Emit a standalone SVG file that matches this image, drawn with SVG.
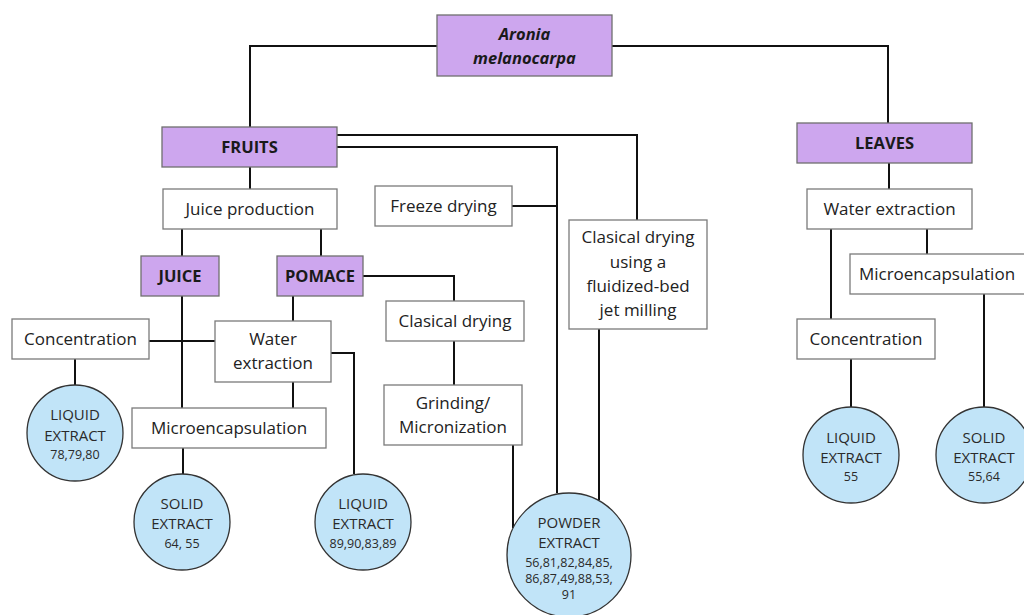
<svg xmlns="http://www.w3.org/2000/svg" width="1024" height="615" viewBox="0 0 1024 615">
<style>
.box{fill:#fff;stroke:#7a7a7a;stroke-width:1.3}
.pb{fill:#cda6ee;stroke:#6f6f6f;stroke-width:1.3}
.c{fill:#c1e4f8;stroke:#333;stroke-width:1.3}
.t{font-family:"Open Sans","Noto Sans","Liberation Sans",sans-serif;font-size:17px;fill:#222;text-anchor:middle}
.b{font-weight:bold;font-size:16.5px;fill:#1a1a1a}
.ct{font-family:"Open Sans","Noto Sans","Liberation Sans",sans-serif;font-size:15px;fill:#2a2a2a;text-anchor:middle}
.n{font-size:12.5px}
.ln{fill:none;stroke:#111;stroke-width:2}
</style>
<g id="connectors" class="ln">
<polyline points="437,46 250,46 250,127"/>
<polyline points="612,46 888,46 888,123"/>
<polyline points="337,135 637,135 637,220"/>
<polyline points="337,147 557,147 557,493"/>
<line x1="512" y1="206" x2="557" y2="206"/>
<line x1="599" y1="329" x2="599" y2="500"/>
<line x1="250" y1="167" x2="250" y2="189"/>
<line x1="182" y1="229" x2="182" y2="256"/>
<line x1="321" y1="229" x2="321" y2="256"/>
<line x1="182" y1="296" x2="182" y2="408"/>
<line x1="293" y1="296" x2="293" y2="321"/>
<line x1="149" y1="341" x2="215" y2="341"/>
<line x1="75" y1="359" x2="75" y2="385"/>
<polyline points="331,353 354,353 354,474"/>
<line x1="293" y1="382" x2="293" y2="408"/>
<line x1="183" y1="448" x2="183" y2="474"/>
<polyline points="363,276 454,276 454,301"/>
<line x1="454" y1="341" x2="454" y2="385"/>
<line x1="513" y1="445" x2="513" y2="528"/>
<line x1="889" y1="163" x2="889" y2="189"/>
<line x1="927" y1="229" x2="927" y2="254"/>
<line x1="831" y1="229" x2="831" y2="319"/>
<line x1="851" y1="359" x2="851" y2="407"/>
<line x1="984" y1="294" x2="984" y2="407"/>
</g>
<g id="aronia"><rect class="pb" x="437" y="15" width="175" height="61"/>
<text class="t b" font-style="italic" x="524.5" y="40">Aronia</text>
<text class="t b" font-style="italic" x="524.5" y="64">melanocarpa</text></g>
<g id="fruits"><rect class="pb" x="162" y="127" width="175" height="40"/><text class="t b" x="249.5" y="153">FRUITS</text></g>
<g id="leaves"><rect class="pb" x="797" y="123" width="175" height="40"/><text class="t b" x="884.5" y="149">LEAVES</text></g>
<g id="juiceprod"><rect class="box" x="163" y="189" width="174" height="40"/><text class="t" x="250" y="215">Juice production</text></g>
<g id="juice"><rect class="pb" x="141" y="256" width="78" height="40"/><text class="t b" x="180" y="282">JUICE</text></g>
<g id="pomace"><rect class="pb" x="277" y="256" width="86" height="40"/><text class="t b" x="320" y="282">POMACE</text></g>
<g id="conc1"><rect class="box" x="12" y="319" width="137" height="40"/><text class="t" x="80.5" y="345">Concentration</text></g>
<g id="water1"><rect class="box" x="215" y="321" width="116" height="61"/><text class="t" x="273" y="345">Water</text><text class="t" x="273" y="369">extraction</text></g>
<g id="micro1"><rect class="box" x="132" y="408" width="194" height="40"/><text class="t" x="229" y="434">Microencapsulation</text></g>
<g id="liq1"><circle class="c" cx="75" cy="433" r="48"/><text class="ct" x="75" y="420">LIQUID</text><text class="ct" x="75" y="441">EXTRACT</text><text class="ct n" x="75" y="459">78,79,80</text></g>
<g id="sol1"><circle class="c" cx="182" cy="522" r="48"/><text class="ct" x="182" y="509">SOLID</text><text class="ct" x="182" y="529">EXTRACT</text><text class="ct n" x="182" y="548">64, 55</text></g>
<g id="liq2"><circle class="c" cx="363" cy="522" r="48"/><text class="ct" x="363" y="509">LIQUID</text><text class="ct" x="363" y="529">EXTRACT</text><text class="ct n" x="363" y="548">89,90,83,89</text></g>
<g id="freeze"><rect class="box" x="375" y="186" width="137" height="40"/><text class="t" x="443.5" y="212">Freeze drying</text></g>
<g id="clasfluid"><rect class="box" x="569" y="220" width="138" height="109"/><text class="t" x="638" y="243">Clasical drying</text><text class="t" x="638" y="268">using a</text><text class="t" x="638" y="292">fluidized-bed</text><text class="t" x="638" y="316">jet milling</text></g>
<g id="clas"><rect class="box" x="386" y="301" width="138" height="40"/><text class="t" x="455" y="327">Clasical drying</text></g>
<g id="grind"><rect class="box" x="384" y="385" width="138" height="60"/><text class="t" x="453" y="409">Grinding/</text><text class="t" x="453" y="433">Micronization</text></g>
<g id="powder"><circle class="c" cx="569" cy="555" r="62"/><text class="ct" x="569" y="528">POWDER</text><text class="ct" x="569" y="548">EXTRACT</text><text class="ct n" x="569" y="567">56,81,82,84,85,</text><text class="ct n" x="569" y="583">86,87,49,88,53,</text><text class="ct n" x="569" y="599">91</text></g>
<g id="water2"><rect class="box" x="807" y="189" width="165" height="40"/><text class="t" x="889.5" y="215">Water extraction</text></g>
<g id="micro2"><rect class="box" x="850" y="254" width="180" height="40"/><text class="t" x="937" y="280">Microencapsulation</text></g>
<g id="conc2"><rect class="box" x="797" y="319" width="138" height="40"/><text class="t" x="866" y="345">Concentration</text></g>
<g id="liq3"><circle class="c" cx="851" cy="455" r="48"/><text class="ct" x="851" y="443">LIQUID</text><text class="ct" x="851" y="463">EXTRACT</text><text class="ct n" x="851" y="481">55</text></g>
<g id="sol2"><circle class="c" cx="984" cy="455" r="48"/><text class="ct" x="984" y="443">SOLID</text><text class="ct" x="984" y="463">EXTRACT</text><text class="ct n" x="984" y="481">55,64</text></g>
</svg>
